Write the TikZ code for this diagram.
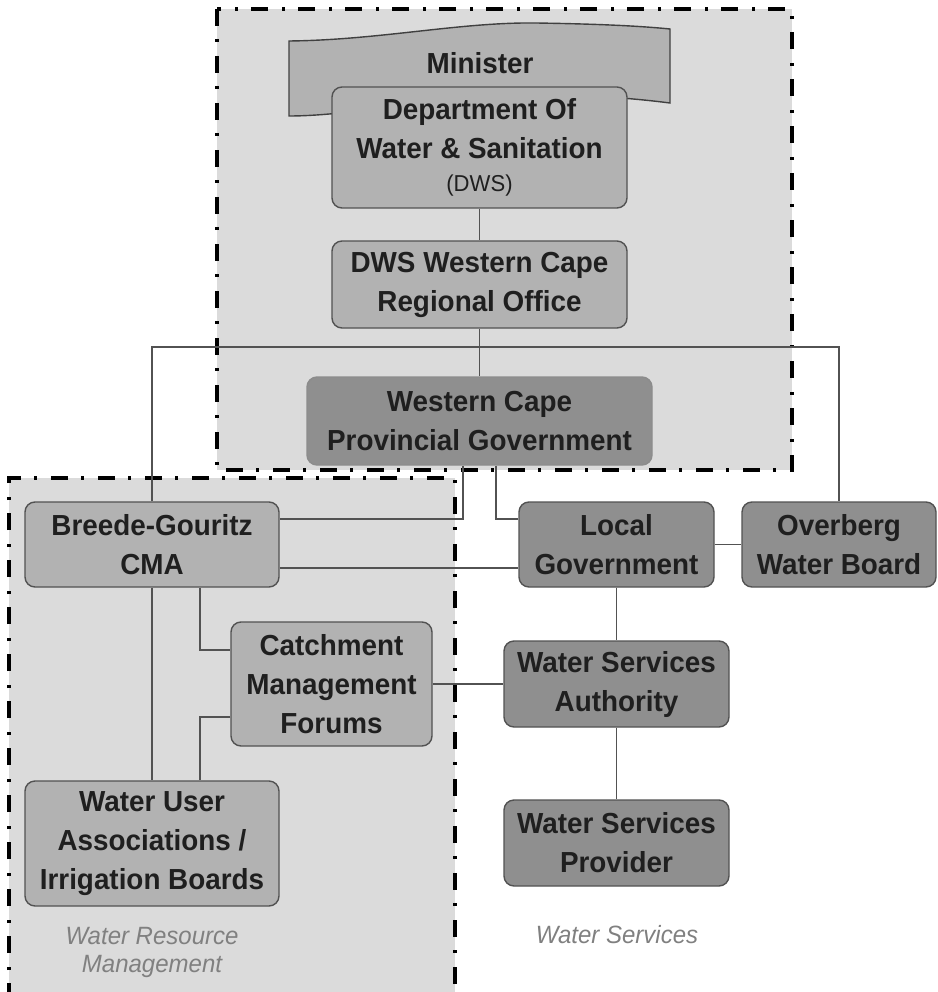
\documentclass[tikz,border=0pt]{standalone}
\usepackage{fontspec}
\setmainfont[FakeStretch=0.96]{Liberation Sans}
\begin{document}
\begin{tikzpicture}[x=1pt,y=-1pt,
  box/.style={draw=black!68, line width=1.4pt, rounded corners=10pt, align=center, inner sep=0pt,
     font=\bfseries\fontsize{29}{39}\selectfont, text=black!88},
  light/.style={box, fill=black!30},
  dark/.style={box, fill=black!44},
  conn/.style={draw=black!68, line width=1.8pt},
  region/.style={draw=black, line width=3.5pt, dash pattern=on 17pt off 13pt on 3pt off 14pt},
  caption/.style={font=\itshape\fontsize{25}{28}\selectfont, text=black!50, align=center, inner sep=0pt}
]
\useasboundingbox (0,0) rectangle (937,992);
% regions
\fill[black!14] (217,9) rectangle (792,470);
\draw[region] (217,9) rectangle (792,470);
\fill[black!14] (9,478) rectangle (455,992);
\draw[region] (9,1000) -- (9,478) -- (455,478) -- (455,1000);
% coordinates for bends
\coordinate (x463) at (463,0);
\coordinate (x496) at (496,0);
\coordinate (x200) at (200,0);
\coordinate (y347) at (0,347);
\coordinate (y519) at (0,519);
\coordinate (y568) at (0,568);
\coordinate (y650) at (0,650);
\coordinate (y717) at (0,717);
% minister banner
\draw[fill=black!30, draw=black!75, line width=1.4pt]
  (289,41) .. controls (380,40) and (460,22) .. (536,23)
  .. controls (600,24) and (640,26) .. (670,29) -- (670,103)
  .. controls (600,94) and (520,92) .. (450,100)
  .. controls (380,108) and (330,116) .. (289,116) -- cycle;
\node[font=\bfseries\fontsize{29}{39}\selectfont, text=black!88] (minister) at (480,63) {Minister};
% nodes
\node[light, minimum width=295, minimum height=121] (dws) at (479.5,147.5)
  {Department Of\\Water \& Sanitation\\[-6pt]{\mdseries\fontsize{23}{28}\selectfont(DWS)}};
\node[light, minimum width=295, minimum height=87] (reg) at (479.5,284.5) {DWS Western Cape\\Regional Office};
\node[dark, minimum width=345, minimum height=88, draw=black!45] (prov) at (479.5,421) {Western Cape\\Provincial Government};
\node[light, minimum width=254, minimum height=85] (cma) at (152,544.5) {Breede-Gouritz\\CMA};
\node[dark, minimum width=195, minimum height=85] (lg) at (616.5,544.5) {Local\\Government};
\node[dark, minimum width=194, minimum height=85] (ob) at (839,544.5) {Overberg\\Water Board};
\node[light, minimum width=201, minimum height=124] (cmf) at (331.5,684) {Catchment\\Management\\Forums};
\node[dark, minimum width=225, minimum height=86] (wsa) at (616.5,684) {Water Services\\Authority};
\node[dark, minimum width=225, minimum height=86] (wsp) at (616.5,843) {Water Services\\Provider};
\node[light, minimum width=254, minimum height=125] (wua) at (152,843.5) {Water User\\Associations /\\Irrigation Boards};
% captions
\node[caption] (wrm) at (152,952) {Water Resource\\Management};
\node[caption] (ws) at (617,935) {Water Services};
% connectors
\draw[conn] (dws.south) -- (reg.north);
\draw[conn] (reg.south) -- (prov.north);
\draw[conn] (cma.north) -- (cma.north |- y347) -- (ob.north |- y347) -- (ob.north);
\draw[conn] (prov.south -| x463) |- (cma.east |- y519);
\draw[conn] (prov.south -| x496) |- (lg.west |- y519);
\draw[conn] (cma.east |- y568) -- (lg.west |- y568);
\draw[conn] (lg.east) -- (ob.west);
\draw[conn] (lg.south) -- (wsa.north);
\draw[conn] (wsa.south) -- (wsp.north);
\draw[conn] (cmf.east) -- (wsa.west);
\draw[conn] (cma.south) -- (wua.north);
\draw[conn] (cma.south -| x200) |- (cmf.west |- y650);
\draw[conn] (cmf.west |- y717) -| (wua.north -| x200);
\end{tikzpicture}
\end{document}
